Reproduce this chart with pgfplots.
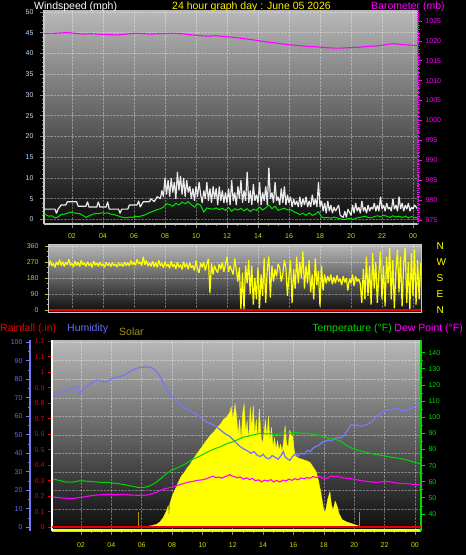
\documentclass[border=0pt]{standalone}
\usepackage{pgfplots}
\pgfplotsset{compat=1.18}
\usepackage{fontspec}
\setmainfont{Liberation Sans}
\definecolor{bgtop}{RGB}{185,185,185}
\definecolor{bgbot}{RGB}{12,12,12}
\definecolor{axgray}{RGB}{200,200,200}
\definecolor{tickyel}{RGB}{215,215,0}
\definecolor{windlab}{RGB}{190,220,255}
\definecolor{gust}{RGB}{235,235,235}
\definecolor{avgwind}{RGB}{0,225,0}
\definecolor{baro}{RGB}{255,0,255}
\definecolor{diryel}{RGB}{255,255,0}
\definecolor{dirlab}{RGB}{200,205,0}
\definecolor{humblue}{RGB}{120,120,245}
\definecolor{humlab}{RGB}{100,110,240}
\definecolor{rainred}{RGB}{235,0,0}
\definecolor{tempgreen}{RGB}{0,215,0}
\definecolor{dewmag}{RGB}{255,0,255}
\definecolor{solaryel}{RGB}{255,255,0}
\definecolor{solarlab}{RGB}{160,150,20}
\definecolor{sunmark}{RGB}{170,150,0}
\newcommand{\tickfont}{\fontsize{7}{8}\selectfont}
\newcommand{\labfont}{\fontsize{10.5}{12}\selectfont}
\pgfplotsset{
  base/.style={
    scale only axis, anchor=north west,
    /pgf/number format/assume math mode=true,
    /pgf/number format/1000 sep={},
    tick label style={font=\tickfont},
    tick align=outside,
    major tick length=4pt, minor tick length=2pt,
  },
  noarrows/.style={
    every outer x axis line/.append style={-},
    every outer y axis line/.append style={-},
    every inner x axis line/.append style={-},
    every inner y axis line/.append style={-},
  },
  mygrid/.style={grid=major, grid style={white, opacity=0.35, densely dotted, line width=0.6pt}},
}

\pgfplotstableread{
h v
0.19 2.5
0.9 2.5
1.0 1.5
1.1 2.5
1.3 3.5
1.6 3.5
1.7 4.3
2.3 4.3
2.4 3.2
2.9 3.2
3.0 4.3
3.1 3.0
3.6 3.0
3.7 4.3
3.8 3.0
4.2 3.0
4.3 4.3
4.4 2.5
5.0 2.5
5.1 1.5
5.2 2.5
5.6 2.5
5.7 3.5
6.2 3.5
6.3 4.5
6.4 3.0
6.6 4.3
7.0 4.3
7.1 5.0
7.3 4.3
7.5 5.5
7.7 5.0
7.8 7.0
7.9 5.5
8.0 10.0
8.1 6.0
8.2 9.5
8.3 5.5
8.4 10.0
8.5 6.5
8.6 9.0
8.7 5.0
8.8 11.5
8.9 7.0
9.0 10.5
9.1 6.0
9.2 10.0
9.3 5.5
9.4 9.5
9.5 6.5
9.6 8.0
9.7 5.0
9.8 7.5
9.9 4.5
10.0 8.0
10.1 5.5
10.2 9.0
10.3 6.0
10.4 4.0
10.5 7.0
10.6 5.0
10.7 9.0
10.8 4.5
10.9 7.5
11.0 4.0
11.1 8.0
11.2 5.0
11.3 7.5
11.4 3.5
11.5 8.0
11.6 4.5
11.7 7.0
11.8 4.0
11.9 6.5
12.0 4.0
12.1 7.5
12.2 3.5
12.3 9.5
12.4 4.5
12.5 6.5
12.6 3.5
12.7 8.0
12.8 5.0
12.9 9.5
13.0 4.0
13.1 7.0
13.2 4.5
13.3 11.5
13.4 4.0
13.5 7.0
13.6 3.5
13.7 8.5
13.8 4.5
13.9 6.0
14.0 4.0
14.1 9.0
14.2 3.5
14.3 6.5
14.4 4.5
14.5 8.0
14.6 3.5
14.7 12.5
14.8 5.0
14.9 6.5
15.0 4.0
15.1 9.0
15.2 4.5
15.3 5.5
15.4 3.5
15.5 7.5
15.6 4.0
15.7 8.0
15.8 3.5
15.9 6.0
16.0 4.0
16.1 5.5
16.2 3.0
16.3 5.0
16.4 3.5
16.5 4.5
16.6 3.0
16.7 5.5
16.8 3.0
16.9 5.0
17.0 3.5
17.1 5.5
17.2 3.0
17.3 4.5
17.4 3.0
17.5 6.0
17.6 3.5
17.7 5.0
17.8 3.0
17.9 9.0
18.0 3.0
18.1 4.5
18.2 2.0
18.3 4.0
18.4 1.5
18.5 4.5
18.6 2.0
18.7 3.5
18.8 1.5
18.9 3.0
19.0 2.0
19.2 3.5
19.3 1.0
19.5 0.5
19.6 2.0
19.7 0.5
19.8 2.5
20.0 1.0
20.1 3.5
20.2 1.5
20.3 4.0
20.4 2.0
20.5 3.0
20.6 1.5
20.7 4.5
20.8 2.0
20.9 3.0
21.0 1.5
21.1 3.5
21.2 2.0
21.3 3.0
21.4 2.5
21.5 4.0
21.6 2.0
21.7 3.5
21.8 2.0
21.9 5.5
22.0 2.5
22.1 3.5
22.2 2.0
22.3 4.0
22.4 2.5
22.5 3.0
22.6 2.0
22.7 5.0
22.8 2.5
22.9 3.5
23.0 2.0
23.1 5.5
23.2 2.5
23.3 4.0
23.4 2.0
23.5 3.5
23.6 2.5
23.7 4.0
23.8 2.0
23.9 3.0
24.0 2.5
24.1 3.5
24.3 2.5
}\gusttable

\pgfplotstableread{
h v
0.19 1.3
0.3 1.2
0.5 0.8
0.7 0.9
0.9 0.4
1.1 0.6
1.3 1.2
1.5 1.3
1.7 1.5
1.9 1.8
2.1 1.6
2.3 1.5
2.5 1.4
2.7 1.0
2.9 0.5
3.1 0.9
3.3 1.2
3.5 1.5
3.7 1.4
3.9 1.6
4.1 1.5
4.3 1.6
4.5 1.3
4.7 1.2
4.9 1.0
5.1 0.7
5.3 0.5
5.5 0.4
5.7 0.6
5.9 0.5
6.1 0.8
6.3 0.7
6.5 0.9
6.7 1.1
6.9 1.5
7.1 1.8
7.3 2.1
7.5 2.4
7.7 2.6
7.9 3.0
8.1 3.8
8.3 3.6
8.5 3.2
8.7 3.9
8.9 3.5
9.1 4.2
9.3 3.8
9.5 4.3
9.7 3.6
9.9 3.0
10.1 3.8
10.3 3.4
10.5 1.8
10.7 2.8
10.9 2.6
11.1 2.5
11.3 2.8
11.5 2.4
11.7 2.7
11.9 2.2
12.1 2.9
12.3 2.0
12.5 2.6
12.7 2.3
12.9 2.7
13.1 2.1
13.3 2.6
13.5 1.9
13.7 2.5
13.9 2.2
14.1 3.0
14.3 2.3
14.5 2.8
14.7 3.5
14.9 2.6
15.1 3.2
15.3 2.2
15.5 2.5
15.7 2.7
15.9 2.3
16.1 2.4
16.3 1.9
16.5 1.6
16.7 1.2
16.9 1.5
17.1 1.0
17.3 1.6
17.5 1.0
17.7 1.3
17.9 1.9
18.1 0.6
18.3 0.4
18.5 0.5
18.7 0.3
18.9 0.6
19.1 0.4
19.3 0.2
19.5 0.0
19.7 0.1
19.9 0.3
20.1 0.0
20.3 0.3
20.5 0.5
20.7 0.6
20.9 0.8
21.1 0.5
21.3 0.4
21.5 0.7
21.7 0.9
21.9 0.7
22.1 1.0
22.3 0.8
22.5 0.5
22.7 0.9
22.9 0.6
23.1 0.8
23.3 0.5
23.5 0.8
23.7 0.4
23.9 0.7
24.1 0.5
24.3 0.4
}\avgtable

\pgfplotstableread{
h v
0.19 1021.9
0.80 1021.9
1.30 1022.0
1.70 1022.1
2.20 1021.9
2.70 1021.7
3.20 1021.8
3.70 1021.7
4.20 1021.6
4.90 1021.5
5.50 1021.7
6.00 1021.9
6.40 1021.9
7.00 1021.7
7.60 1021.8
8.20 1021.9
8.75 1021.9
9.30 1021.7
9.80 1021.5
10.30 1021.3
10.80 1021.2
11.30 1021.3
11.80 1021.1
12.40 1020.9
13.00 1020.6
13.60 1020.3
14.10 1020.0
14.60 1019.7
15.10 1019.5
15.60 1019.2
16.10 1019.0
16.70 1018.8
17.20 1018.6
17.80 1018.5
18.40 1018.3
18.90 1018.2
19.40 1018.2
19.90 1018.3
20.50 1018.4
21.00 1018.6
21.50 1018.7
22.00 1018.9
22.50 1019.2
22.80 1019.3
23.20 1019.1
23.60 1019.0
24.00 1018.9
24.30 1018.8
}\barotable

\pgfplotstableread{
h v
0.52 250
0.6 278
0.7 248
0.8 262
0.9 240
1.0 270
1.1 252
1.2 282
1.3 250
1.4 272
1.5 245
1.6 268
1.7 255
1.8 285
1.9 250
2.0 262
2.1 242
2.2 275
2.3 250
2.4 268
2.5 245
2.6 280
2.7 255
2.8 265
2.9 245
3.0 272
3.1 250
3.2 262
3.3 240
3.4 275
3.5 252
3.6 265
3.7 245
3.8 270
3.9 248
4.0 260
4.1 240
4.2 268
4.3 250
4.4 262
4.5 244
4.6 266
4.7 250
4.8 258
4.9 242
5.0 265
5.1 248
5.2 262
5.3 245
5.4 270
5.5 250
5.6 266
5.7 248
5.8 278
5.9 255
6.0 268
6.1 252
6.2 285
6.3 258
6.4 270
6.5 250
6.6 300
6.7 255
6.8 278
6.9 248
7.0 265
7.1 245
7.2 275
7.3 242
7.4 268
7.5 240
7.6 280
7.7 248
7.8 262
7.9 238
8.0 272
8.1 245
8.2 258
8.3 235
8.4 275
8.5 242
8.6 260
8.7 232
8.8 268
8.9 240
9.0 255
9.1 228
9.2 272
9.3 240
9.4 262
9.5 230
9.6 265
9.7 238
9.8 250
9.9 222
10.0 278
10.1 230
10.2 210
10.3 265
10.4 240
10.5 270
10.6 222
10.8 288
10.9 95
11.0 262
11.1 200
11.2 250
11.3 225
11.4 210
11.5 260
11.6 230
11.7 268
11.8 215
11.9 255
12.0 300
12.1 215
12.2 250
12.3 225
12.4 200
12.5 290
12.6 230
12.7 160
12.8 240
12.9 5
13.0 210
13.1 0
13.2 250
13.3 150
13.4 280
13.5 90
13.6 250
13.7 30
13.8 180
13.9 60
14.0 240
14.1 10
14.2 200
14.3 80
14.4 290
14.5 40
14.6 230
14.7 300
14.8 70
14.9 250
15.0 160
15.1 230
15.2 190
15.3 260
15.4 240
15.5 160
15.6 200
15.7 280
15.8 240
15.9 80
16.0 190
16.1 280
16.2 40
16.3 230
16.4 120
16.5 300
16.6 150
16.7 270
16.8 180
16.9 330
17.0 120
17.1 250
17.2 150
17.3 280
17.4 100
17.5 200
17.6 60
17.7 290
17.8 140
17.9 220
18.0 20
18.1 250
18.2 110
18.3 200
18.4 150
18.5 190
18.6 160
18.7 200
18.8 145
18.9 185
19.0 150
19.1 195
19.2 160
19.3 175
19.4 140
19.5 190
19.6 155
19.7 180
19.8 110
19.9 175
20.0 150
20.1 200
20.2 135
20.3 190
20.4 160
20.5 175
20.6 150
20.7 40
20.8 230
20.9 60
21.0 300
21.1 80
21.2 250
21.3 30
21.4 320
21.5 120
21.6 270
21.7 40
21.8 200
21.9 330
22.0 60
22.1 250
22.2 20
22.3 300
22.4 150
22.5 350
22.6 60
22.7 280
22.8 10
22.9 220
23.0 340
23.1 100
23.2 300
23.3 20
23.4 250
23.5 350
23.6 40
23.7 270
23.8 0
23.9 320
24.0 80
24.1 340
24.2 30
24.3 280
24.4 60
24.5 265
}\dirtable

\pgfplotstableread{
h v
5.89 0
6.0 3
6.3 6
6.6 10
7.0 20
7.2 35
7.4 60
7.6 100
7.75 140
7.8 60
7.85 150
8.0 200
8.2 245
8.4 290
8.6 330
8.8 355
9.0 385
9.2 410
9.4 445
9.6 470
9.8 500
10.0 525
10.2 555
10.4 580
10.6 605
10.8 625
11.0 650
11.2 670
11.4 700
11.6 715
11.8 745
11.9 780
12.0 700
12.1 760
12.15 800
12.25 720
12.35 600
12.45 700
12.55 560
12.65 740
12.75 800
12.85 620
12.95 690
13.05 560
13.15 780
13.25 640
13.35 790
13.45 600
13.55 700
13.65 560
13.75 770
13.85 600
13.95 540
14.05 600
14.15 700
14.25 580
14.35 720
14.45 560
14.55 650
14.65 520
14.75 580
14.85 510
14.95 560
15.05 500
15.15 540
15.25 490
15.35 560
15.45 660
15.55 540
15.65 520
15.75 630
15.85 600
15.95 590
16.05 500
16.15 460
16.3 450
16.6 440
16.9 430
17.1 420
17.3 390
17.5 360
17.65 300
17.8 230
17.9 170
18.0 110
18.1 100
18.25 180
18.4 230
18.5 150
18.6 110
18.75 170
18.9 130
19.0 90
19.2 50
19.5 35
19.8 25
20.1 15
20.3 8
20.5 0
}\solartable

\pgfplotstableread{
h v
0.10 70.5
0.30 71.2
0.50 72.0
0.70 72.8
0.90 73.6
1.10 74.4
1.30 75.0
1.50 75.4
1.70 75.8
1.80 75.2
1.90 73.0
1.95 72.4
2.05 73.5
2.20 75.0
2.40 76.2
2.60 77.5
2.80 78.5
3.00 79.5
3.20 79.3
3.40 78.8
3.60 78.7
3.80 79.2
4.00 80.3
4.20 80.8
4.40 81.2
4.60 81.6
4.80 82.2
5.00 83.0
5.20 84.0
5.40 85.0
5.60 85.7
5.80 86.2
6.00 86.5
6.20 86.6
6.40 86.6
6.60 86.4
6.80 85.5
7.00 84.0
7.20 81.5
7.40 78.5
7.60 75.5
7.80 73.0
8.00 70.5
8.20 68.8
8.40 67.5
8.60 66.5
8.80 64.8
9.00 63.8
9.20 63.0
9.40 62.0
9.60 61.2
9.80 59.8
10.00 58.8
10.20 57.5
10.40 56.5
10.60 55.8
10.80 55.0
11.00 53.8
11.20 52.5
11.40 51.2
11.60 50.0
11.80 49.2
12.00 47.5
12.20 46.0
12.40 44.2
12.60 43.0
12.80 42.0
13.00 41.2
13.20 40.0
13.40 41.0
13.60 39.0
13.80 38.2
14.00 39.5
14.20 37.5
14.40 37.0
14.60 38.8
14.80 37.8
15.00 36.8
15.20 39.0
15.33 41.0
15.45 38.0
15.60 37.0
15.77 36.2
15.90 38.0
16.10 39.5
16.30 38.5
16.50 40.2
16.70 39.5
16.90 41.5
17.10 41.0
17.30 42.8
17.50 43.8
17.70 44.5
17.90 46.0
18.10 46.5
18.30 47.2
18.50 46.8
18.70 48.0
18.90 48.5
19.10 48.2
19.30 49.5
19.50 51.5
19.70 54.5
19.85 55.5
20.00 54.8
20.20 55.3
20.40 54.5
20.60 55.0
20.80 55.5
21.00 56.2
21.20 57.5
21.40 59.5
21.60 60.5
21.80 62.0
22.00 63.2
22.20 63.6
22.40 63.2
22.60 64.2
22.80 64.3
23.00 63.5
23.20 62.9
23.40 63.2
23.60 63.8
23.80 64.3
24.00 65.5
24.20 66.8
24.38 68.0
}\humtable

\pgfplotstableread{
h v
0.10 61.9
0.40 61.2
0.70 60.5
1.00 59.8
1.30 59.7
1.60 60.0
1.90 60.6
2.20 60.5
2.50 60.2
2.80 60.0
3.10 59.8
3.40 59.5
3.70 59.7
4.00 59.3
4.30 59.0
4.60 58.6
4.90 58.2
5.20 57.5
5.50 57.0
5.80 56.4
6.00 56.3
6.20 56.6
6.40 57.0
6.70 58.2
7.00 60.0
7.30 62.3
7.60 64.8
7.90 66.8
8.20 68.0
8.50 69.3
8.80 70.6
9.10 72.5
9.40 74.1
9.70 75.3
10.00 76.8
10.30 78.3
10.60 79.6
10.90 80.8
11.20 81.7
11.50 83.2
11.80 84.2
12.10 85.0
12.40 86.5
12.70 87.7
13.00 88.2
13.30 89.0
13.60 89.6
13.90 90.2
14.20 89.6
14.50 89.8
14.80 89.2
15.10 89.6
15.40 90.2
15.70 89.8
16.00 90.6
16.30 90.4
16.60 90.0
16.90 90.2
17.20 89.6
17.50 89.2
17.80 88.5
18.10 87.6
18.40 86.9
18.70 86.4
19.00 85.6
19.30 83.8
19.60 82.0
19.90 80.5
20.20 79.6
20.50 78.9
20.80 78.2
21.10 77.6
21.40 77.0
21.70 76.5
22.00 76.0
22.30 75.5
22.60 75.0
22.90 74.6
23.20 74.1
23.50 73.5
23.80 72.6
24.10 71.8
24.38 71.0
}\temptable

\pgfplotstableread{
h v
0.10 50.7
0.40 50.3
0.70 50.0
1.00 49.8
1.30 49.6
1.60 49.8
1.90 50.2
2.20 50.6
2.50 51.1
2.80 51.5
3.10 51.8
3.40 52.0
3.70 52.2
4.00 52.1
4.30 52.0
4.60 52.2
4.90 52.1
5.20 51.8
5.50 51.7
5.80 51.6
6.10 51.5
6.40 51.9
6.70 52.6
7.00 53.6
7.30 55.0
7.60 55.8
7.90 56.5
8.20 57.2
8.50 58.2
8.80 59.0
9.10 59.8
9.40 60.3
9.70 60.9
10.00 61.2
10.30 61.9
10.50 62.8
10.70 63.4
10.90 62.6
11.10 62.9
11.30 62.2
11.50 63.3
11.70 63.8
11.80 64.5
11.95 63.6
12.10 63.2
12.30 62.4
12.50 63.0
12.70 61.6
12.90 62.4
13.10 61.4
13.30 62.0
13.50 60.6
13.70 61.2
13.90 59.9
14.10 61.0
14.30 60.4
14.50 61.3
14.70 59.9
14.90 60.8
15.10 59.8
15.30 61.0
15.50 60.5
15.70 61.6
15.90 60.9
16.10 61.9
16.30 61.2
16.50 62.3
16.70 61.8
16.90 62.6
17.10 62.2
17.30 63.2
17.50 62.5
17.70 63.4
17.90 62.4
18.10 62.0
18.30 62.6
18.50 63.6
18.70 63.2
18.90 63.4
19.10 62.8
19.40 62.2
19.70 62.0
20.00 61.6
20.30 61.0
20.60 60.5
20.90 60.2
21.20 59.8
21.50 59.6
21.80 59.9
22.10 60.2
22.40 59.9
22.70 59.3
23.00 59.0
23.30 58.9
23.60 58.7
23.90 58.4
24.20 58.3
24.38 58.2
}\dewtable

\begin{document}
\begin{tikzpicture}
\useasboundingbox (0pt,0pt) rectangle (466pt,-555pt);
\fill[black] (0pt,0pt) rectangle (466pt,-555pt);

% ---------- Panel 1: wind ----------
\begin{axis}[base,
  at={(44pt,-10pt)}, width=374pt, height=214pt,
  xmin=0.194, xmax=24.32, ymin=-1.08, ymax=50.48,
  axis background/.style={top color=bgtop, bottom color=bgbot},
  axis x line*=bottom, axis y line*=left,
  axis line style={axgray, line width=1.2pt},
  xtick={2,4,...,24}, xticklabels={02,04,06,08,10,12,14,16,18,20,22,00},
  minor x tick num=2,
  ytick={0,5,...,50}, minor y tick num=4,
  mygrid,
  tick style={gray, line width=0.6pt},
  xticklabel style={text=tickyel, yshift=-2pt},
  yticklabel style={text=windlab, xshift=-3pt},
  noarrows,
]
\addplot[gust, line width=1.2pt, line join=bevel] table[x=h,y=v] {\gusttable};
\addplot[avgwind, line width=1pt] table[x=h,y=v] {\avgtable};
\end{axis}
\begin{axis}[base,
  at={(44pt,-10pt)}, width=374pt, height=214pt,
  xmin=0.194, xmax=24.32, ymin=973.99, ymax=1027.76,
  axis x line=none, axis y line*=right,
  y axis line style={baro, densely dotted, line width=1.2pt},
  ytick={975,980,...,1025}, minor y tick num=4,
  tick style={baro, line width=0.6pt},
  yticklabel style={text=baro},
  noarrows,
]
\addplot[baro, line width=1.1pt] table[x=h,y=v] {\barotable};
\end{axis}

% ---------- Panel 2: direction ----------
\begin{axis}[base,
  at={(49pt,-244pt)}, width=372pt, height=68pt,
  xmin=0.516, xmax=24.52, ymin=-11.25, ymax=371.25,
  axis background/.style={top color=bgtop, bottom color=bgbot},
  axis line style={axgray, line width=1pt},
  xtick={2,4,...,24}, xticklabels={}, xtick style={draw=none},
  ytick={0,90,180,270,360}, minor y tick num=2, ytick pos=left,
  mygrid,
  ytick style={dirlab, line width=0.8pt},
  yticklabel style={text=dirlab, xshift=-3pt},
]
\addplot[diryel, line width=1.2pt, line join=bevel] table[x=h,y=v] {\dirtable};
\addplot[rainred, line width=2pt] coordinates {(0.516,0) (24.52,0)};
\end{axis}
\begin{axis}[base,
  at={(49pt,-244pt)}, width=372pt, height=68pt,
  xmin=0.516, xmax=24.52, ymin=-11.25, ymax=371.25,
  axis x line=none, axis y line*=right, y axis line style={draw=none},
  ytick={0,90,180,270,360}, yticklabels={N,E,S,W,N},
  major tick length=0pt, ytick style={draw=none},
  yticklabel style={text=diryel, font=\fontsize{10}{12}\selectfont, xshift=12pt},
  noarrows,
]
\end{axis}

% ---------- Panel 3: solar / humidity / temp / rain ----------
\begin{axis}[base,
  at={(52pt,-340pt)}, width=369pt, height=191pt,
  xmin=0.092, xmax=24.40, ymin=-24, ymax=1214.88,
  axis background/.style={top color=bgtop, bottom color=bgbot},
  axis x line*=bottom, axis y line*=left,
  x axis line style={axgray, line width=1.2pt},
  y axis line style={draw=none},
  xtick={2,4,...,24}, xticklabels={02,04,06,08,10,12,14,16,18,20,22,00},
  minor x tick num=2,
  ytick={120,240,...,1200}, yticklabels={}, ytick style={draw=none},
  xtick style={gray, line width=0.6pt},
  mygrid,
  xticklabel style={text=tickyel, yshift=-4pt},
  noarrows,
]
\addplot[fill=solaryel, draw=solaryel, line width=0.3pt] table[x=h,y=v] {\solartable} \closedcycle;
\addplot[solaryel, line width=1.8pt] coordinates {(0.092,-17) (24.4,-17)};
\addplot[ycomb, sunmark, line width=1pt] coordinates {(5.78,101) (20.38,101)};
\end{axis}
\begin{axis}[base,
  at={(52pt,-340pt)}, width=369pt, height=191pt,
  xmin=0.092, xmax=24.40, ymin=-2, ymax=101.24,
  axis x line=none, axis y line*=left,
  y axis line style={humblue, line width=2pt, xshift=-22pt},
  ytick={0,10,...,100}, minor y tick num=1,
  ytick style={humblue, line width=0.8pt, xshift=-22pt},
  yticklabel style={text=humlab, xshift=-22pt},
  noarrows,
]
\addplot[humblue, line width=1.3pt] table[x=h,y=v] {\humtable};
\end{axis}
\begin{axis}[base,
  at={(52pt,-340pt)}, width=369pt, height=191pt,
  xmin=0.092, xmax=24.40, ymin=29.46, ymax=147.9,
  axis x line=none, axis y line*=right,
  y axis line style={tempgreen, line width=1.2pt},
  ytick={40,50,...,140}, minor y tick num=1,
  ytick style={tempgreen, line width=0.8pt},
  yticklabel style={text=tempgreen},
  noarrows,
]
\addplot[tempgreen, line width=1pt] table[x=h,y=v] {\temptable};
\addplot[dewmag, line width=1.1pt] table[x=h,y=v] {\dewtable};
\end{axis}
\begin{axis}[base,
  at={(52pt,-340pt)}, width=369pt, height=191pt,
  xmin=0.092, xmax=24.40, ymin=-0.024, ymax=1.2084,
  axis x line=none, axis y line*=left,
  y axis line style={white, line width=1.2pt},
  ytick={0,0.1,0.2,0.3,0.4,0.5,0.6,0.7,0.8,0.9,1,1.1,1.2},
  yticklabels={0,0.1,0.2,0.3,0.4,0.5,0.6,0.7,0.8,0.9,1,1.1,1.2},
  ytick style={rainred, line width=0.8pt},
  yticklabel style={text=rainred},
  noarrows,
]
\addplot[rainred, line width=2pt] coordinates {(0.092,0) (24.4,0)};
\draw[rainred, line width=1.2pt, dash pattern=on 1.5pt off 1.5pt] ([xshift=-1.6pt]rel axis cs:0,0) -- ([xshift=-1.6pt]rel axis cs:0,1);
\end{axis}

% ---------- Titles ----------
\begin{scope}[every node/.style={anchor=base west, inner sep=0pt, font=\labfont}]
\node[text=white] at (34pt,-9.3pt) {Windspeed (mph)};
\node[text=yellow] at (172pt,-9.3pt) {24 hour graph day : June 05 2026};
\node[text=baro] at (371pt,-9.3pt) {Barometer (mb)};
\node[text=rainred] at (0pt,-331.5pt) {Rainfall (.in)};
\node[text=humlab] at (67pt,-331pt) {Humidity};
\node[text=solarlab] at (119pt,-335.7pt) {Solar};
\node[text=tempgreen, anchor=base east] at (392pt,-331.5pt) {Temperature (°F)};
\node[text=dewmag, anchor=base east] at (463pt,-331.5pt) {Dew Point (°F)};
\end{scope}
\end{tikzpicture}
\end{document}
